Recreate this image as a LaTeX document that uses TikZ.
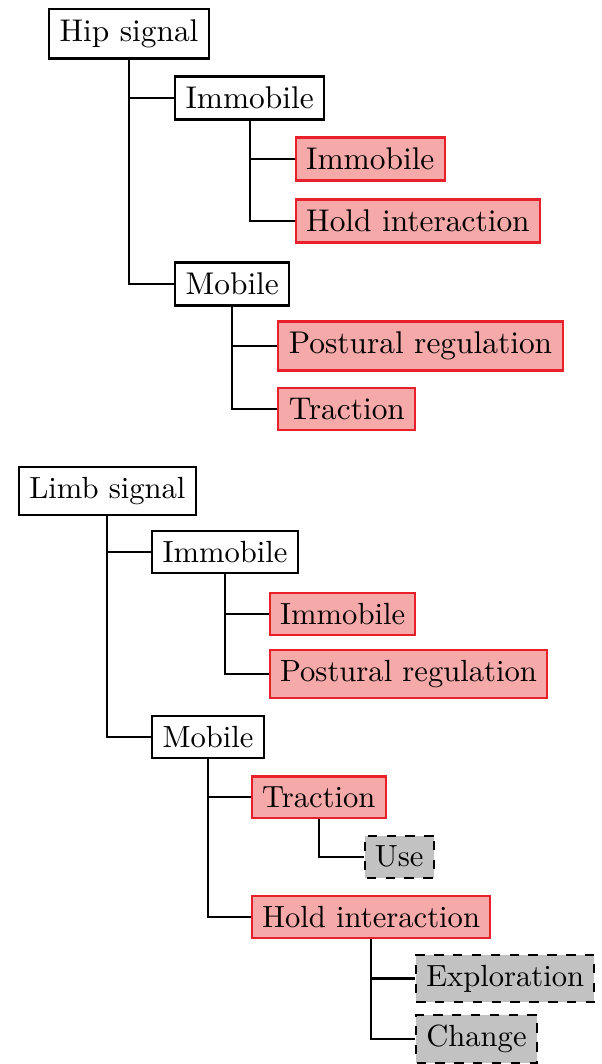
\documentclass[tikz,border=0pt]{standalone}
\usetikzlibrary{calc}
\definecolor{boxpink}{HTML}{F6A9A9}
\definecolor{boxred}{HTML}{E8202A}
\definecolor{boxgray}{HTML}{C2C2C2}
\tikzset{
  plainbox/.style={draw=black, line width=0.7pt, fill=white, anchor=west},
  redbox/.style={draw=boxred, line width=0.7pt, fill=boxpink, anchor=west},
  graybox/.style={draw=black, dashed, line width=0.7pt, fill=boxgray, anchor=west},
  link/.style={draw=black, line width=0.7pt},
}
\begin{document}
\begin{tikzpicture}[x=0.3185pt, y=-0.3185pt]
\useasboundingbox (0,0) rectangle (601,1064);
% ---------- Hip tree ----------
\node[plainbox] (hip) at (48,34) {Hip signal};
\node[plainbox] (imm1) at ($(hip.south |- 0,98)+(45,0)$) {Immobile};
\node[redbox] (imm1a) at ($(imm1.south |- 0,159)+(45,0)$) {Immobile};
\node[redbox] (hold1) at ($(imm1.south |- 0,221)+(45,0)$) {Hold interaction};
\node[plainbox] (mob1) at ($(hip.south |- 0,284)+(45,0)$) {Mobile};
\node[redbox] (post1) at ($(mob1.south |- 0,346)+(45,0)$) {Postural regulation};
\node[redbox] (trac1) at ($(mob1.south |- 0,409)+(45,0)$) {Traction};
\draw[link] (hip.south) |- (imm1.west);
\draw[link] (hip.south) |- (mob1.west);
\draw[link] (imm1.south) |- (imm1a.west);
\draw[link] (imm1.south) |- (hold1.west);
\draw[link] (mob1.south) |- (post1.west);
\draw[link] (mob1.south) |- (trac1.west);
% ---------- Limb tree ----------
\begin{scope}[shift={(18,491)}, scale=0.975, transform shape]
\node[plainbox] (limb) at (0,0) {Limb signal};
\node[plainbox] (imm2) at ($(limb.south |- 0,62.5)+(45,0)$) {Immobile};
\node[redbox] (imm2a) at ($(imm2.south |- 0,126)+(45,0)$) {Immobile};
\node[redbox] (post2) at ($(imm2.south |- 0,188)+(45,0)$) {Postural regulation};
\node[plainbox] (mob2) at ($(limb.south |- 0,252)+(45,0)$) {Mobile};
\node[redbox] (trac2) at ($(mob2.south |- 0,314)+(44,0)$) {Traction};
\node[graybox] (use) at ($(trac2.south |- 0,375)+(46,0)$) {Use};
\node[redbox] (hold2) at ($(mob2.south |- 0,437)+(44,0)$) {Hold interaction};
\node[graybox] (expl) at ($(hold2.south |- 0,500)+(45,0)$) {Exploration};
\node[graybox] (chg) at ($(hold2.south |- 0,562)+(45,0)$) {Change};
\draw[link] (limb.south) |- (imm2.west);
\draw[link] (limb.south) |- (mob2.west);
\draw[link] (imm2.south) |- (imm2a.west);
\draw[link] (imm2.south) |- (post2.west);
\draw[link] (mob2.south) |- (trac2.west);
\draw[link] (mob2.south) |- (hold2.west);
\draw[link] (trac2.south) |- (use.west);
\draw[link] (hold2.south) |- (expl.west);
\draw[link] (hold2.south) |- (chg.west);
\end{scope}
\end{tikzpicture}
\end{document}
